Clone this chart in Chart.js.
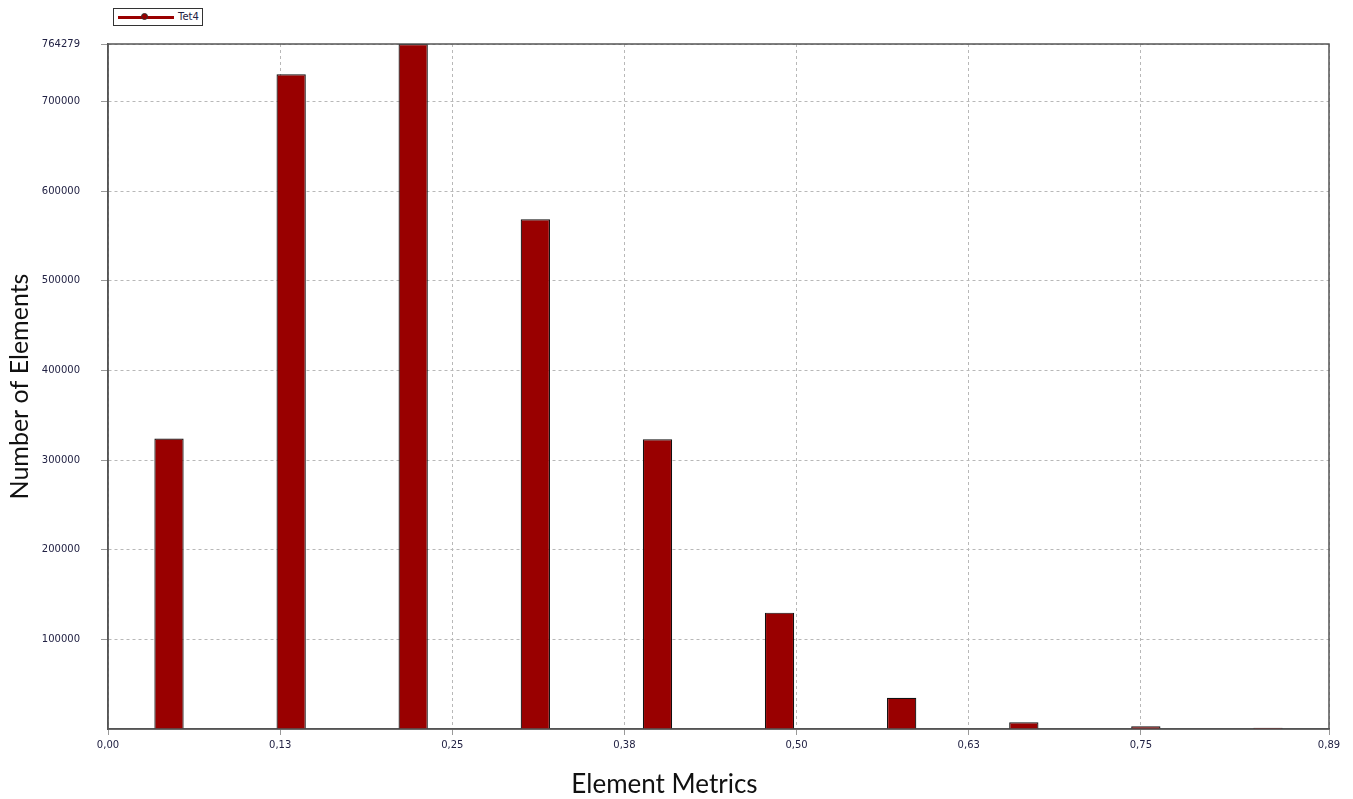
<!DOCTYPE html>
<html>
<head>
<meta charset="utf-8">
<script src="https://cdn.jsdelivr.net/npm/chart.js@4/dist/chart.umd.min.js"></script>
<style>
	html, body { margin: 0; padding: 0; background: #fff; }
	#wrap { position: relative; width: 1353px; height: 799px; }
	#legend {
		position: absolute; left: 113px; top: 8px; width: 90px; height: 18px;
		border: 1px solid #333; background: #fff; box-sizing: border-box;
		font: 10px "DejaVu Sans", sans-serif; color: #222244;
	}
	#legend .line { position: absolute; left: 4px; top: 7px; width: 56px; height: 3px; background: #990000; }
	#legend .dot { position: absolute; left: 27px; top: 4px; width: 7px; height: 7px; border-radius: 50%; background: #990000; border: 1px solid #333; box-sizing: border-box; }
	#legend .txt { position: absolute; left: 64px; top: 2px; }
</style>
</head>
<body>
<div id="wrap">
	<canvas id="chart" width="1353" height="799"></canvas>
	<div id="legend"><div class="line"></div><div class="dot"></div><span class="txt">Tet4</span></div>
</div>
<script>
'use strict'

// histogram bins: 10 equal bins from 0 to xMax
const xMax = 0.8866
const binCenters = [0.0443, 0.1330, 0.2216, 0.3103, 0.3990, 0.4876, 0.5763, 0.6650, 0.7536, 0.8423]
const counts = [324000, 730400, 764279, 568700, 323200, 129800, 34900, 7500, 3000, 1500]
const seriesName = 'Tet4'

const yTicks = [100000, 200000, 300000, 400000, 500000, 600000, 700000, 764279]
const xTicks = [0, 0.125, 0.25, 0.375, 0.5, 0.625, 0.75, xMax]
const xTickLabels = ['0,00', '0,13', '0,25', '0,38', '0,50', '0,63', '0,75', '0,89']

const tickFont = { family: '"DejaVu Sans", sans-serif', size: 10 }
const tickColor = '#222244'
const gridColor = '#b8b8b8'

const frame = {
	id: 'frame',
	afterDraw(chart) {
		const a = chart.chartArea
		const ctx = chart.ctx
		ctx.save()
		ctx.strokeStyle = '#555'
		ctx.lineWidth = 1.5
		ctx.strokeRect(a.left, a.top, a.right - a.left, a.bottom - a.top)
		ctx.restore()
	}
}

new Chart(document.getElementById('chart'), {
	type: 'bar',
	data: {
		datasets: [{
			label: seriesName,
			data: binCenters.map((x, i) => ({ x: x, y: counts[i] })),
			backgroundColor: '#990000',
			borderColor: '#111',
			borderWidth: 1.2,
			categoryPercentage: 1,
			barPercentage: 0.24,
		}],
	},
	options: {
		responsive: false,
		animation: false,
		layout: { padding: { top: 44, right: 24, left: 0, bottom: 0 } },
		plugins: {
			legend: { display: false },
			tooltip: { enabled: false },
			title: {
				display: true,
				position: 'bottom',
				text: 'Element Metrics',
				font: { family: 'Lato, sans-serif', size: 26, weight: 'normal', lineHeight: 1 },
				color: '#111',
				padding: { top: 0, bottom: 1 },
			},
		},
		scales: {
			x: {
				type: 'linear',
				min: 0,
				max: xMax,
				offset: false,
				afterFit(scale) { scale.height = 43 },
				afterBuildTicks(scale) { scale.ticks = xTicks.map(v => ({ value: v })) },
				grid: {
					offset: false,
					color: gridColor,
					tickBorderDash: [],
					tickLength: 6,
					tickColor: '#999',
				},
				border: { display: true, color: '#555', width: 1.5, dash: [3, 3] },
				ticks: {
					font: tickFont,
					color: tickColor,
					padding: 4,
					maxRotation: 0,
					autoSkip: false,
					callback: (v, i) => xTickLabels[i],
				},
			},
			y: {
				min: 0,
				max: counts[2],
				afterFit(scale) { scale.width = 108 },
				afterBuildTicks(scale) { scale.ticks = yTicks.map(v => ({ value: v })) },
				grid: {
					color: gridColor,
					tickBorderDash: [],
					tickLength: 7,
					tickColor: '#999',
				},
				border: { display: true, color: '#555', width: 1.5, dash: [3, 3] },
				ticks: {
					font: tickFont,
					color: tickColor,
					padding: 21,
					autoSkip: false,
					callback: v => String(v),
				},
				title: {
					display: true,
					text: 'Number of Elements',
					font: { family: 'Lato, sans-serif', size: 25, lineHeight: 1 },
					color: '#111',
					padding: { top: 7, bottom: 0 },
				},
			},
		},
	},
	plugins: [frame],
})
</script>
</body>
</html>
